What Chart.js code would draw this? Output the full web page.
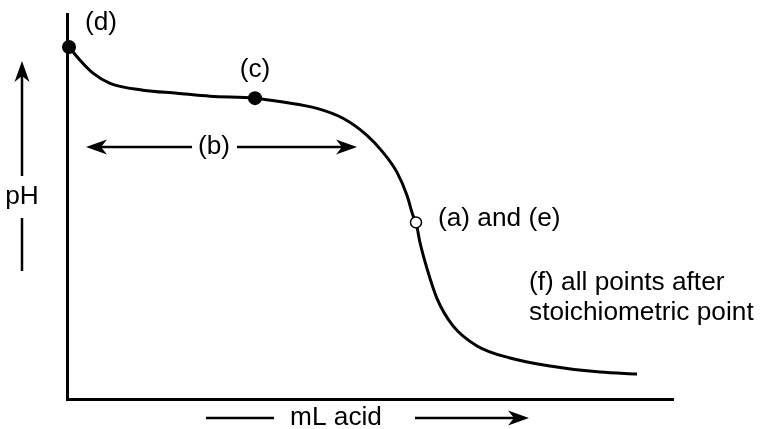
<!DOCTYPE html>
<html>
<head>
<meta charset="utf-8">
<script src="https://cdn.jsdelivr.net/npm/chart.js@4"></script>
<style>
html,body{margin:0;padding:0;background:#fff;}
#wrap{width:769px;height:429px;position:relative;}
</style>
</head>
<body>
<div id="wrap"><canvas id="c" width="769" height="429"></canvas></div>
<script>
// Titration curve (arbitrary mL acid, pH)
const mLAcid = [0.33, 2.15, 4.29, 7.1, 12.54, 18.15, 23.6, 31.02, 35.64, 41.25, 45.54, 49.5, 52.15, 54.46, 56.11, 57.1, 57.59, 58.25, 59.41, 61.06, 63.7, 67.66, 73.1, 79.7, 87.95, 94.06];
const pH     = [12.8, 12.32, 11.85, 11.48, 11.23, 11.12, 11.01, 10.94, 10.8, 10.57, 10.21, 9.59, 8.97, 8.24, 7.4, 6.67, 6.42, 5.69, 4.74, 3.65, 2.66, 1.93, 1.49, 1.2, 0.98, 0.91];
const solidX = [0.33, 31.02];
const solidY = [12.8, 10.94];
const openX = [57.59];
const openY = [6.42];
const labels = {
  d: "(d)", c: "(c)", b: "(b)", ae: "(a) and (e)",
  f1: "(f) all points after", f2: "stoichiometric point",
  yTitle: "pH", xTitle: "mL acid"
};

const curve = mLAcid.map((x, i) => ({x, y: pH[i]}));
const solid = solidX.map((x, i) => ({x, y: solidY[i]}));
const open = openX.map((x, i) => ({x, y: openY[i]}));

const FONT = '25px "Liberation Sans", Arial, sans-serif';
const SX = 1.05;

function txt(ctx, s, x, y, align) {
  ctx.save();
  ctx.font = FONT;
  ctx.fillStyle = '#000';
  ctx.textBaseline = 'middle';
  ctx.textAlign = align || 'center';
  ctx.translate(x, y);
  ctx.scale(SX, 1);
  ctx.fillText(s, 0, 0);
  ctx.restore();
}
function line(ctx, x1, y1, x2, y2, w) {
  ctx.beginPath(); ctx.moveTo(x1, y1); ctx.lineTo(x2, y2);
  ctx.lineWidth = w || 2.5; ctx.strokeStyle = '#000'; ctx.stroke();
}
function head(ctx, tx, ty, dx, dy) {
  const L = 21, W = 7.5, N = 6;
  const px = -dy, py = dx;
  ctx.beginPath();
  ctx.moveTo(tx, ty);
  ctx.lineTo(tx - dx * L + px * W, ty - dy * L + py * W);
  ctx.lineTo(tx - dx * (L - N), ty - dy * (L - N));
  ctx.lineTo(tx - dx * L - px * W, ty - dy * L - py * W);
  ctx.closePath();
  ctx.fillStyle = '#000'; ctx.fill();
}

const annot = {
  id: 'annot',
  afterDatasetsDraw(chart) {
    const ctx = chart.ctx;
    const xs = chart.scales.x, ys = chart.scales.y;
    txt(ctx, labels.d, xs.getPixelForValue(solidX[0]) + 32, ys.getPixelForValue(solidY[0]) - 24);
    txt(ctx, labels.c, xs.getPixelForValue(solidX[1]), ys.getPixelForValue(solidY[1]) - 28);
    txt(ctx, labels.ae, xs.getPixelForValue(openX[0]) + 22, ys.getPixelForValue(openY[0]) - 3, 'left');
    txt(ctx, labels.f1, 529, 283, 'left');
    txt(ctx, labels.f2, 529, 313, 'left');
    // (b) double arrow
    const by = 147;
    line(ctx, 95, by, 192, by);
    line(ctx, 237, by, 347, by);
    head(ctx, 86, by, -1, 0);
    head(ctx, 357, by, 1, 0);
    txt(ctx, labels.b, 214, by);
    // pH axis arrow
    line(ctx, 22, 271, 22, 218);
    line(ctx, 22, 176, 22, 72);
    head(ctx, 22, 61, 0, -1);
    txt(ctx, labels.yTitle, 22, 197);
    // mL acid arrow
    const my = 418;
    line(ctx, 206, my, 274, my);
    line(ctx, 415, my, 518, my);
    head(ctx, 529, my, 1, 0);
    txt(ctx, labels.xTitle, 336, my);
  }
};

new Chart(document.getElementById('c'), {
  type: 'scatter',
  data: {
    datasets: [
      { data: curve, showLine: true, borderColor: '#000', borderWidth: 3, pointRadius: 0, cubicInterpolationMode: 'monotone', clip: false, order: 3 },
      { data: solid, pointRadius: 7, pointBackgroundColor: '#000', pointBorderColor: '#000', pointBorderWidth: 0, clip: false, order: 1 },
      { data: open, pointRadius: 5.5, pointBackgroundColor: '#fff', pointBorderColor: '#000', pointBorderWidth: 1.5, clip: false, order: 1 }
    ]
  },
  options: {
    responsive: false,
    animation: false,
    devicePixelRatio: 1,
    layout: { padding: { left: 59, right: 96, top: 14, bottom: 22 } },
    plugins: { legend: { display: false }, tooltip: { enabled: false } },
    scales: {
      x: { type: 'linear', min: 0, max: 100, grid: { display: false }, ticks: { display: false },
           border: { display: true, color: '#000', width: 3 } },
      y: { type: 'linear', min: 0, max: 14, grid: { display: false }, ticks: { display: false },
           border: { display: true, color: '#000', width: 3 } }
    }
  },
  plugins: [annot]
});
</script>
</body>
</html>
